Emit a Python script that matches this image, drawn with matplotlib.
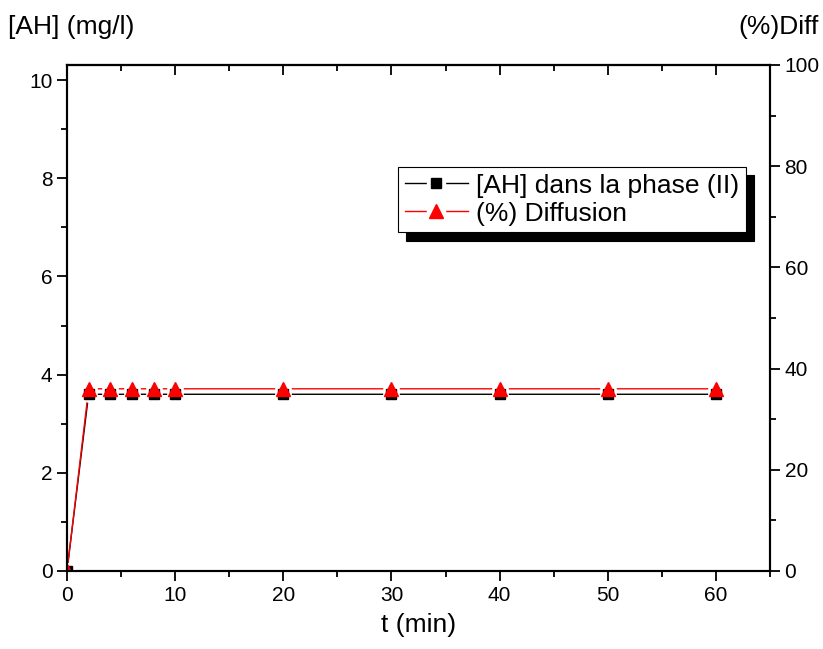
import numpy as np
import matplotlib.pyplot as plt
from matplotlib.ticker import MultipleLocator
from matplotlib.lines import Line2D
from matplotlib.legend_handler import HandlerTuple

# data
t = [0, 2, 4, 6, 8, 10, 20, 30, 40, 50, 60]
ah_phase2 = [0, 3.6, 3.6, 3.6, 3.6, 3.6, 3.6, 3.6, 3.6, 3.6, 3.6]
diffusion = [0, 36, 36, 36, 36, 36, 36, 36, 36, 36, 36]

plt.rcParams['font.family'] = ['Liberation Sans', 'DejaVu Sans']

fig = plt.figure(figsize=(8.23, 6.49), dpi=100)
ax = fig.add_axes([0.0814, 0.1202, 0.8542, 0.7798])
ax2 = ax.twinx()

ax.set_xlim(0, 65)
ax.set_ylim(0, 10.31)
ax2.set_ylim(0, 100)

# diffusion is drawn on ax but through the right axis scale, so that the
# white gaps around markers can sit between lines and markers
tr2 = ax2.transData
ax.plot(t, ah_phase2, color='black', lw=1, zorder=2)
ax.plot(t, diffusion, color='red', lw=1, zorder=2, transform=tr2)
ax.plot(t, ah_phase2, ls='none', marker='o', ms=11, color='white', zorder=3)
ax.plot(t, diffusion, ls='none', marker='o', ms=11, color='white', zorder=3, transform=tr2)
ax.plot(t, ah_phase2, ls='none', marker='s', ms=7, color='black', zorder=4)
ax.plot(t, diffusion, ls='none', marker='^', ms=10, color='red', zorder=5, transform=tr2)

ax.xaxis.set_major_locator(MultipleLocator(10))
ax.xaxis.set_minor_locator(MultipleLocator(5))
ax.yaxis.set_major_locator(MultipleLocator(2))
ax.yaxis.set_minor_locator(MultipleLocator(1))
ax2.yaxis.set_major_locator(MultipleLocator(20))
ax2.yaxis.set_minor_locator(MultipleLocator(10))

for a in (ax, ax2):
    a.tick_params(which='major', direction='out', length=7, width=1.3, labelsize=15)
    a.tick_params(which='minor', direction='out', length=4, width=1.3)
    for s in a.spines.values():
        s.set_linewidth(1.5)

# top ticks point inward, no labels
top = ax.secondary_xaxis('top')
top.xaxis.set_major_locator(MultipleLocator(10))
top.xaxis.set_minor_locator(MultipleLocator(5))
top.tick_params(which='major', direction='in', length=7, width=1.3, labeltop=False)
top.tick_params(which='minor', direction='in', length=4, width=1.3)
top.spines['top'].set_linewidth(1.5)

ax.set_xlabel('t (min)', fontsize=19, labelpad=6)
fig.text(0.01, 0.947, '[AH] (mg/l)', fontsize=19, ha='left', va='baseline')
fig.text(0.995, 0.947, '(%)Diff', fontsize=19, ha='right', va='baseline')

# legend handles: line, white gap, marker (overlaid)
h1 = (Line2D([], [], color='black', lw=1),
      Line2D([], [], ls='none', marker='s', ms=13, color='white'),
      Line2D([], [], ls='none', marker='s', ms=7, color='black'))
h2 = (Line2D([], [], color='red', lw=1),
      Line2D([], [], ls='none', marker='s', ms=13, color='white'),
      Line2D([], [], ls='none', marker='^', ms=10, color='red'))
leg = ax.legend([h1, h2], ['[AH] dans la phase (II)', '(%) Diffusion'],
                handler_map={tuple: HandlerTuple(ndivide=1, pad=0)},
                loc='upper left', bbox_to_anchor=(0.471, 0.798),
                fontsize=19, frameon=True, fancybox=False, numpoints=1,
                handlelength=2.4, borderpad=0.25, labelspacing=0.15, handletextpad=0.3,
                borderaxespad=0, shadow={'color': 'black', 'alpha': 1, 'ox': 6, 'oy': -6})
leg.get_frame().set_edgecolor('black')
leg.get_frame().set_linewidth(0.8)
leg.set_zorder(10)

fig.savefig('out.png', dpi=100)
